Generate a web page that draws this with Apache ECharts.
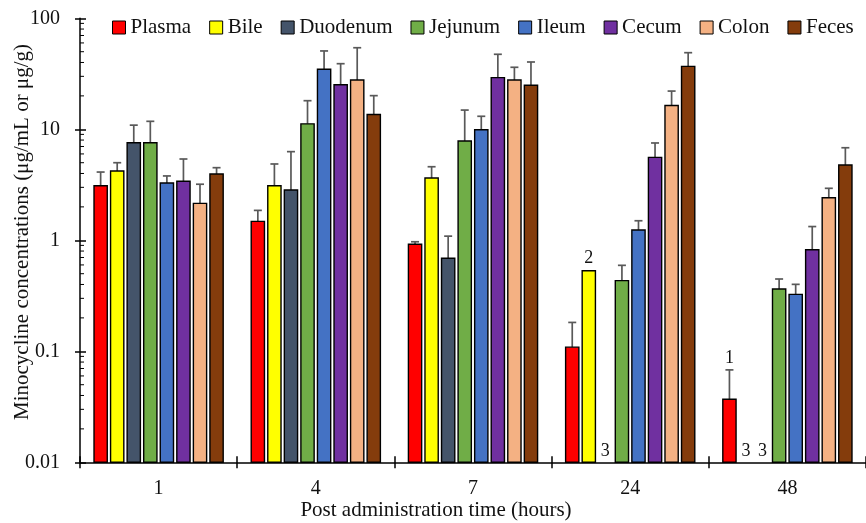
<!DOCTYPE html>
<html><head><meta charset="utf-8">
<script src="https://cdn.jsdelivr.net/npm/echarts@6/dist/echarts.min.js"></script>
<style>html,body{margin:0;padding:0;background:#fff}#c{width:866px;height:523px}</style>
</head><body><div id="c"></div>
<script>
// ---- data ----
const categories = ['1', '4', '7', '24', '48'];
const seriesNames = ['Plasma', 'Bile', 'Duodenum', 'Jejunum', 'Ileum', 'Cecum', 'Colon', 'Feces'];
const yTickLabels = ['0.01', '0.1', '1', '10', '100'];

const plasma      = [3.10, 1.48, 0.92, 0.109, 0.037];
const plasmaErr   = [4.12, 1.86, 0.97, 0.182, 0.068];
const bile        = [4.21, 3.10, 3.64, 0.532, null];
const bileErr     = [5.00, 4.87, 4.60, null, null];
const duodenum    = [7.57, 2.84, 0.689, null, null];
const duodenumErr = [10.9, 6.29, 1.09, null, null];
const jejunum     = [7.57, 11.2, 7.85, 0.433, 0.364];
const jejunumErr  = [11.8, 18.1, 14.9, 0.595, 0.448];
const ileum       = [3.28, 34.7, 9.92, 1.24, 0.326];
const ileumErr    = [3.80, 50.8, 13.1, 1.50, 0.401];
const cecum       = [3.40, 25.2, 29.2, 5.59, 0.823];
const cecumErr    = [5.40, 39.0, 47.4, 7.53, 1.33];
const colon       = [2.15, 27.8, 27.8, 16.4, 2.42];
const colonErr    = [3.20, 54.3, 36.2, 22.1, 2.94];
const feces       = [3.96, 13.6, 24.9, 36.9, 4.77];
const fecesErr    = [4.51, 20.1, 40.4, 49.0, 6.82];

// sample-count notes: [category, series, text]
const notes = [
  ['24', 'Bile', '2'],
  ['48', 'Plasma', '1'],
  ['24', 'Duodenum', '3'],
  ['48', 'Bile', '3'],
  ['48', 'Duodenum', '3']
];

const minorTickValues = [0.02,0.03,0.04,0.05,0.06,0.07,0.08,0.09,
                         0.2,0.3,0.4,0.5,0.6,0.7,0.8,0.9,
                         2,3,4,5,6,7,8,9,
                         20,30,40,50,60,70,80,90];

// ---- style ----
const colors = ['#FF0000', '#FFFF00', '#44546A', '#70AD47', '#4472C4', '#7030A0', '#F4B183', '#843C0C'];
const FONT = "'Liberation Serif', 'Times New Roman', serif";
const yMin = 0.01, yMax = 100;
const BAR_FRAC = 13.4 / 159, GAP_FRAC = 3.35 / 159;

const seriesValues = [plasma, bile, duodenum, jejunum, ileum, cecum, colon, feces];
const seriesErrors = [plasmaErr, bileErr, duodenumErr, jejunumErr, ileumErr, cecumErr, colonErr, fecesErr];

function barCenterOffset(band, k) {
  const w = band * BAR_FRAC, g = band * GAP_FRAC;
  const total = 8 * w + 7 * g;
  return -total / 2 + k * (w + g) + w / 2;
}

const series = seriesNames.map((name, k) => ({
  type: 'custom',
  name: name,
  coordinateSystem: 'cartesian2d',
  xAxisIndex: 0, yAxisIndex: 0,
  itemStyle: { color: colors[k], borderColor: '#000', borderWidth: 1 },
  encode: { x: 0, y: 1 },
  data: seriesValues[k].map((v, i) => v == null ? null : [i, v, seriesErrors[k][i] == null ? '-' : seriesErrors[k][i]]).filter(Boolean),
  renderItem: function (params, api) {
    const ci = api.value(0), v = api.value(1), e = api.value(2);
    const band = api.size([1, 0])[0];
    const w = band * BAR_FRAC;
    const top = api.coord([ci, v]);
    const base = api.coord([ci, yMin]);
    const xc = top[0] + barCenterOffset(band, k);
    const children = [];
    if (isFinite(e)) {
      const ey = api.coord([ci, e])[1];
      children.push({ type: 'line', shape: { x1: xc, y1: top[1], x2: xc, y2: ey }, style: { stroke: '#595959', lineWidth: 1.7 } });
      children.push({ type: 'line', shape: { x1: xc - 4, y1: ey, x2: xc + 4, y2: ey }, style: { stroke: '#595959', lineWidth: 1.7 } });
    }
    children.push({ type: 'rect', shape: { x: xc - w / 2, y: top[1], width: w, height: base[1] - top[1] },
      style: { fill: colors[k], stroke: '#000', lineWidth: 1.4 } });
    return { type: 'group', children: children };
  }
}));

// minor ticks on the log axis (inside)
series.push({
  type: 'custom', name: 'minorTicks', coordinateSystem: 'cartesian2d', silent: true,
  encode: { x: 0, y: 1 },
  data: minorTickValues.map(v => [0, v]),
  renderItem: function (params, api) {
    const y = api.coord([0, api.value(1)])[1];
    const x = params.coordSys.x;
    return { type: 'line', shape: { x1: x, y1: y, x2: x + 4, y2: y }, style: { stroke: '#000', lineWidth: 1 } };
  }
});

// n annotations
series.push({
  type: 'custom', name: 'notes', coordinateSystem: 'cartesian2d', silent: true,
  encode: { x: 0, y: 1 },
  data: notes.map(n => {
    const ci = categories.indexOf(n[0]);
    const k = seriesNames.indexOf(n[1]);
    const v = seriesValues[k][ci];
    const e = seriesErrors[k][ci];
    const anchor = v == null ? yMin : (e == null ? v : e);
    return [ci, anchor, k];
  }),
  renderItem: function (params, api) {
    const ci = api.value(0), anchor = api.value(1), k = api.value(2);
    const band = api.size([1, 0])[0];
    const p = api.coord([ci, anchor]);
    const xc = p[0] + barCenterOffset(band, k);
    const isBase = anchor === yMin;
    return { type: 'text', x: xc, y: p[1] - (isBase ? 11 : 12),
      style: { text: notes[params.dataIndex][2], font: '18px ' + FONT, fill: '#111', align: 'center', verticalAlign: 'middle' } };
  }
});

const axisLineStyle = { color: '#000', width: 1.5 };

const option = {
  animation: false,
  backgroundColor: '#fff',
  textStyle: { fontFamily: FONT },
  legend: {
    data: seriesNames.map((n, k) => ({ name: n, icon: 'rect', itemStyle: { color: colors[k], borderColor: '#000', borderWidth: 1 } })),
    left: 112, top: 17, width: 780, padding: 0,
    itemWidth: 13, itemHeight: 13, itemGap: 18,
    selectedMode: false,
    textStyle: { fontFamily: FONT, fontSize: 21, color: '#111' }
  },
  grid: { left: 80, top: 18.3, width: 795, height: 444, containLabel: false },
  xAxis: [{
    type: 'category', data: categories, position: 'bottom',
    axisLine: { onZero: false, lineStyle: axisLineStyle },
    axisTick: { show: true, length: 6, lineStyle: { color: '#000', width: 1.5 } },
    axisLabel: { fontFamily: FONT, fontSize: 20, color: '#111', margin: 16 },
    splitLine: { show: false }
  }, {
    type: 'category', data: categories, position: 'bottom',
    axisLine: { show: false, onZero: false },
    axisTick: { show: true, inside: true, length: 6, lineStyle: { color: '#000', width: 1.5 } },
    axisLabel: { show: false },
    splitLine: { show: false }
  }],
  yAxis: [{
    type: 'log', logBase: 10, min: yMin, max: yMax, position: 'left',
    axisLine: { show: true, onZero: false, lineStyle: axisLineStyle },
    axisTick: { show: true, length: 5, lineStyle: { color: '#000', width: 1.5 } },
    axisLabel: { fontFamily: FONT, fontSize: 20, color: '#111', margin: 20,
      formatter: function (v) {
        const idx = Math.round(Math.log10(v) - Math.log10(yMin));
        return yTickLabels[idx] != null ? yTickLabels[idx] : '';
      } },
    splitLine: { show: false }
  }, {
    type: 'log', logBase: 10, min: yMin, max: yMax, position: 'left',
    axisLine: { show: false, onZero: false },
    axisTick: { show: true, inside: true, length: 6, lineStyle: { color: '#000', width: 1.5 } },
    axisLabel: { show: false },
    splitLine: { show: false }
  }],
  graphic: [
    { type: 'text', x: 22, y: 232, rotation: Math.PI / 2,
      style: { text: 'Minocycline concentrations (μg/mL or μg/g)', font: '21px ' + FONT, fill: '#111', align: 'center', verticalAlign: 'middle' } },
    { type: 'text', x: 436, y: 510,
      style: { text: 'Post administration time (hours)', font: '21px ' + FONT, fill: '#111', align: 'center', verticalAlign: 'middle' } }
  ],
  series: series
};

const chart = echarts.init(document.getElementById('c'), null, { renderer: 'canvas' });
chart.setOption(option);
</script></body></html>
